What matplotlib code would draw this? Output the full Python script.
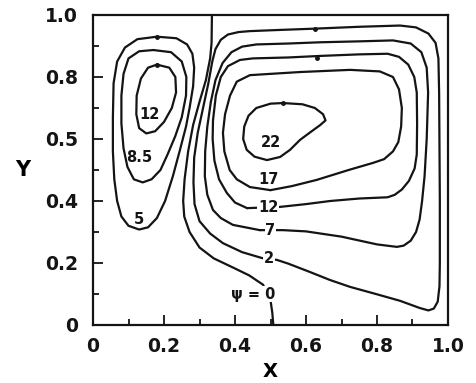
import matplotlib
matplotlib.use("Agg")
import matplotlib.pyplot as plt
from matplotlib.ticker import MultipleLocator

# streamline traces (x, y in box units)
# left cell
c5_x = [0.18, 0.235, 0.265, 0.28, 0.285, 0.282, 0.272, 0.262, 0.245, 0.225, 0.203, 0.18, 0.155,
        0.13, 0.10, 0.08, 0.068, 0.06, 0.056, 0.056, 0.058, 0.068, 0.09, 0.125, 0.18]
c5_y = [0.93, 0.925, 0.905, 0.875, 0.83, 0.77, 0.70, 0.64, 0.565, 0.48, 0.40, 0.345, 0.315,
        0.308, 0.32, 0.35, 0.40, 0.47, 0.56, 0.67, 0.78, 0.85, 0.895, 0.922, 0.93]
c85_x = [0.17, 0.22, 0.25, 0.263, 0.262, 0.25, 0.232, 0.21, 0.19, 0.165, 0.14, 0.115, 0.097,
         0.086, 0.08, 0.08, 0.086, 0.10, 0.13, 0.17]
c85_y = [0.887, 0.88, 0.85, 0.80, 0.74, 0.67, 0.61, 0.55, 0.50, 0.47, 0.46, 0.47, 0.51,
         0.57, 0.65, 0.74, 0.81, 0.86, 0.883, 0.887]
c12a_x = [0.18, 0.215, 0.232, 0.234, 0.222, 0.20, 0.175, 0.15, 0.13, 0.122, 0.123, 0.135, 0.155, 0.18]
c12a_y = [0.84, 0.83, 0.80, 0.75, 0.70, 0.655, 0.625, 0.618, 0.635, 0.68, 0.74, 0.795, 0.83, 0.84]

# dividing streamline psi = 0
c0_x = [0.335, 0.334, 0.33, 0.318, 0.30, 0.282, 0.268, 0.258, 0.254, 0.257, 0.272, 0.30, 0.34,
        0.395, 0.44, 0.479, 0.50, 0.505, 0.508]
c0_y = [1.0, 0.91, 0.86, 0.79, 0.72, 0.645, 0.56, 0.47, 0.40, 0.35, 0.30, 0.25, 0.215,
        0.185, 0.16, 0.13, 0.08, 0.04, 0.0]

# right cell
c2_x = [0.476, 0.42, 0.366, 0.33, 0.30, 0.286, 0.283, 0.285, 0.295, 0.31, 0.325, 0.336, 0.345,
        0.36, 0.38, 0.41, 0.442, 0.53, 0.625, 0.75, 0.865, 0.91, 0.945, 0.965, 0.973, 0.975,
        0.977, 0.977, 0.976, 0.971, 0.96, 0.945, 0.92, 0.865, 0.80, 0.724, 0.668, 0.611, 0.55,
        0.518, 0.476]
c2_y = [0.216, 0.235, 0.264, 0.295, 0.335, 0.39, 0.46, 0.54, 0.62, 0.70, 0.78, 0.85, 0.89,
        0.92, 0.937, 0.945, 0.948, 0.952, 0.956, 0.962, 0.966, 0.96, 0.94, 0.91, 0.86, 0.75,
        0.40, 0.20, 0.125, 0.075, 0.053, 0.047, 0.055, 0.078, 0.099, 0.123, 0.145, 0.171, 0.198,
        0.21, 0.216]
c7_x = [0.47, 0.394, 0.36, 0.338, 0.322, 0.315, 0.316, 0.322, 0.332, 0.345, 0.365, 0.39, 0.42,
        0.46, 0.55, 0.64, 0.75, 0.845, 0.895, 0.925, 0.94, 0.944, 0.94, 0.934, 0.927, 0.92,
        0.91, 0.895, 0.875, 0.856, 0.80, 0.70, 0.60, 0.535, 0.47]
c7_y = [0.306, 0.323, 0.345, 0.371, 0.42, 0.48, 0.56, 0.64, 0.72, 0.79, 0.845, 0.88, 0.898,
        0.905, 0.908, 0.912, 0.915, 0.918, 0.908, 0.88, 0.83, 0.75, 0.60, 0.48, 0.40, 0.34,
        0.30, 0.272, 0.256, 0.252, 0.26, 0.285, 0.302, 0.306, 0.306]
c12b_x = [0.434, 0.40, 0.377, 0.355, 0.342, 0.337, 0.338, 0.346, 0.36, 0.38, 0.414, 0.45, 0.55,
          0.64, 0.75, 0.83, 0.862, 0.888, 0.905, 0.912, 0.913, 0.912, 0.906, 0.89, 0.87, 0.85,
          0.83, 0.75, 0.668, 0.60, 0.527, 0.434]
c12b_y = [0.377, 0.395, 0.426, 0.47, 0.53, 0.60, 0.66, 0.74, 0.80, 0.835, 0.855, 0.86, 0.863,
          0.868, 0.873, 0.875, 0.865, 0.84, 0.80, 0.75, 0.65, 0.55, 0.505, 0.465, 0.437, 0.42,
          0.412, 0.408, 0.40, 0.39, 0.381, 0.377]
c17_x = [0.50, 0.442, 0.405, 0.385, 0.37, 0.366, 0.372, 0.386, 0.405, 0.442, 0.583, 0.724, 0.808,
         0.845, 0.862, 0.87, 0.868, 0.86, 0.845, 0.82, 0.789, 0.72, 0.63, 0.56, 0.50]
c17_y = [0.435, 0.445, 0.47, 0.50, 0.56, 0.62, 0.68, 0.74, 0.785, 0.806, 0.816, 0.823, 0.818,
         0.80, 0.76, 0.70, 0.64, 0.59, 0.56, 0.535, 0.523, 0.50, 0.468, 0.448, 0.435]
c22_x = [0.535, 0.59, 0.625, 0.648, 0.655, 0.64, 0.61, 0.583, 0.555, 0.527, 0.49, 0.455, 0.433,
         0.423, 0.426, 0.438, 0.46, 0.50, 0.535]
c22_y = [0.716, 0.712, 0.70, 0.68, 0.66, 0.645, 0.62, 0.597, 0.565, 0.542, 0.532, 0.543, 0.565,
         0.60, 0.64, 0.675, 0.70, 0.714, 0.716]

# labels: plain ones sit inside a loop, inline ones break the line
plain_text = ["12", "8.5", "5", "22", "17"]
plain_x = [0.16, 0.13, 0.13, 0.50, 0.493]
plain_y = [0.68, 0.54, 0.34, 0.59, 0.468]
inline_text = ["12", "7", "2", "\u03c8 = 0"]
inline_x = [0.493, 0.50, 0.497, 0.45]
inline_y = [0.378, 0.306, 0.213, 0.10]

# little flow-direction marks on the lines
mark_x = [0.18, 0.18, 0.625, 0.63, 0.535]
mark_y = [0.93, 0.84, 0.955, 0.862, 0.716]

x_ticks = [0, 0.2, 0.4, 0.6, 0.8, 1.0]
x_ticklabels = ["0", "0.2", "0.4", "0.6", "0.8", "1.0"]
y_ticks = [0, 0.2, 0.4, 0.6, 0.8, 1.0]
y_ticklabels = ["0", "0.2", "0.4", "0.5", "0.8", "1.0"]

plt.rcParams["font.family"] = ["DejaVu Sans"]
ink = "#141414"

fig = plt.figure(figsize=(4.77, 3.83), dpi=100)
ax = fig.add_axes([93 / 477, 1 - 325 / 383, 355 / 477, 310 / 383])

lines = [(c5_x, c5_y), (c85_x, c85_y), (c12a_x, c12a_y), (c0_x, c0_y), (c2_x, c2_y),
         (c7_x, c7_y), (c12b_x, c12b_y), (c17_x, c17_y), (c22_x, c22_y)]
for lx, ly in lines:
    ax.plot(lx, ly, color=ink, lw=1.6, solid_joinstyle="round", solid_capstyle="round")

ax.plot(mark_x, mark_y, "o", color=ink, ms=2.5)

for t, tx, ty in zip(plain_text, plain_x, plain_y):
    ax.text(tx, ty, t, ha="center", va="center", fontsize=10.5, fontweight="bold", color=ink)
for t, tx, ty in zip(inline_text, inline_x, inline_y):
    ax.text(tx, ty, t, ha="center", va="center", fontsize=10.5, fontweight="bold", color=ink,
            bbox=dict(facecolor="white", edgecolor="none", pad=0.6))

ax.set_xlim(0, 1)
ax.set_ylim(0, 1)
ax.set_xticks(x_ticks)
ax.set_xticklabels(x_ticklabels)
ax.set_yticks(y_ticks)
ax.set_yticklabels(y_ticklabels)
ax.xaxis.set_minor_locator(MultipleLocator(0.1))
ax.yaxis.set_minor_locator(MultipleLocator(0.1))
ax.tick_params(which="both", direction="in", top=False, right=False, width=1.3, colors=ink)
ax.tick_params(which="major", length=7, labelsize=13.5)
ax.tick_params(which="minor", length=4)
ax.tick_params(axis="x", which="major", pad=9)
ax.tick_params(axis="y", which="major", pad=11)
for lab in ax.get_xticklabels() + ax.get_yticklabels():
    lab.set_fontweight("bold")
for sp in ax.spines.values():
    sp.set_linewidth(1.6)
    sp.set_color(ink)

ax.set_xlabel("X", fontsize=14, fontweight="bold", labelpad=4)
ax.set_ylabel("Y", fontsize=15, fontweight="bold", rotation=0, labelpad=16, va="center")

fig.savefig("out.png", dpi=100)
